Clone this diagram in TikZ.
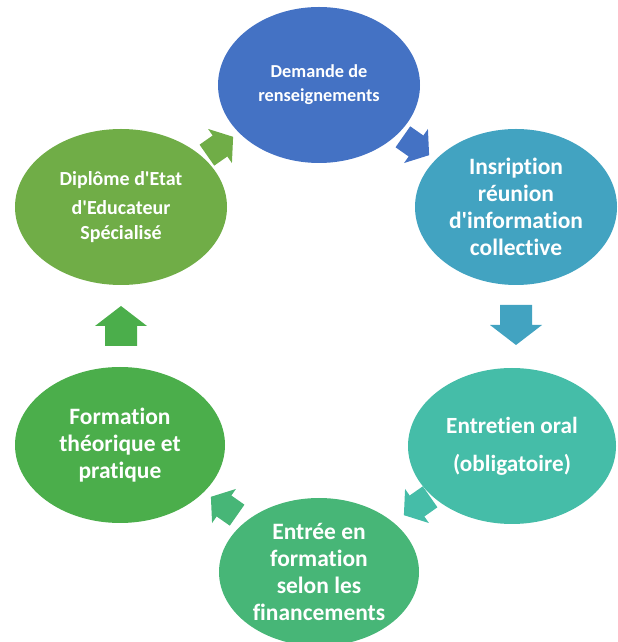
\documentclass[tikz,border=0pt]{standalone}
\usepackage{fontspec}
\setmainfont{Carlito}[Ligatures=NoCommon]
\usetikzlibrary{shapes.geometric}

\definecolor{cdemande}{HTML}{4472C4}
\definecolor{cinscr}{HTML}{42A3C1}
\definecolor{centret}{HTML}{45BDA8}
\definecolor{centree}{HTML}{47B677}
\definecolor{cform}{HTML}{4BAE4B}
\definecolor{cdiplome}{HTML}{70AD47}

\tikzset{
	etape/.style={ellipse, inner sep=0pt, text=white, font=\bfseries, align=center,
		minimum width=5.1cm, minimum height=3.9cm},
	fleche/.pic={
		\fill (-0.5, -0.4) -- (0, -0.4) -- (0, -0.65) -- (0.5, 0) -- (0, 0.65) -- (0, 0.4) -- (-0.5, 0.4) -- cycle;
	},
	oblique/.style={scale=0.8},
}

\begin{document}
\begin{tikzpicture}
					\useasboundingbox (0, 0) rectangle (15.45, 16.05);

					% fleches (sous les ellipses)
					\pic[fill=cdemande, oblique, rotate=-35] (f1) at (10.4, 12.4) {fleche};
					\pic[fill=cinscr, rotate=-90] (f2) at (12.9, 7.925) {fleche};
					\pic[fill=centret, oblique, rotate=-145] (f3) at (10.425, 3.4) {fleche};
					\pic[fill=centree, oblique, rotate=145] (f4) at (5.6, 3.4) {fleche};
					\pic[fill=cform, rotate=90] (f5) at (3.025, 7.9) {fleche};
					\pic[fill=cdiplome, oblique, rotate=35] (f6) at (5.5, 12.4) {fleche};

					% etapes
					\node[etape, fill=cdemande, minimum width=5.05cm, font=\bfseries\fontsize{13}{17}\selectfont] at (7.975, 13.925) (demande) {Demande de\\renseignements};
					\node[etape, fill=cinscr, minimum width=5.05cm, font=\bfseries\fontsize{16.7}{19.2}\selectfont] at (12.9, 10.875) (inscr) {Insription\\réunion\\d\textquotesingle information\\collective};
					\node[etape, fill=centret, minimum width=5.2cm, font=\bfseries\fontsize{16.5}{27}\selectfont] at (12.8, 4.9) (entret) {Entretien oral\\(obligatoire)};
					\node[etape, fill=centree, minimum width=5cm, minimum height=3.7cm, font=\bfseries\fontsize{16.7}{19.2}\selectfont] at (7.975, 1.75) (entree) {Entrée en\\formation\\selon les\\financements};
					\node[etape, fill=cform, minimum width=5.25cm, font=\bfseries\fontsize{16.7}{19.2}\selectfont] at (3.0, 4.925) (form) {Formation\\théorique et\\pratique};
					\node[etape, fill=cdiplome, minimum width=5.3cm, font=\bfseries\fontsize{14.2}{17.5}\selectfont] at (3.025, 10.875) (diplome) {Diplôme d\textquotesingle Etat\\[3pt]d\textquotesingle Educateur\\Spécialisé};
				\end{tikzpicture}
\end{document}
